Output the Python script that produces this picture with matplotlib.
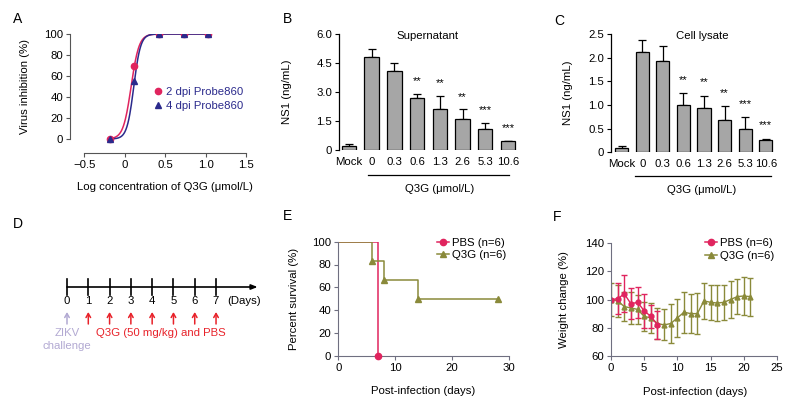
import matplotlib
matplotlib.use("Agg")
import matplotlib.pyplot as plt
from matplotlib.lines import Line2D
import matplotlib.transforms as mtransforms
import numpy as np

plt.rcParams['font.family'] = ['Liberation Sans', 'DejaVu Sans']
FS = 8.2
plt.rcParams['font.size'] = FS

# --- Colours ---
RED = '#e0245e'
NAVY = '#2b2a8c'
OLIVE = '#8a8a3a'
LAVENDER = '#b2a9d2'
BAR_GRAY = '#a6a6a6'
AXIS_GRAY = '#6f6f80'

# --- Panel A: dose response ---
A_LOGCONC = [-0.18, 0.12, 0.43, 0.73, 1.03]
A_2DPI = [0, 70, 100, 100, 100]
A_4DPI = [0, 55, 100, 100, 100]
# fitted logistic parameters (log IC50, hill slope)
A_FIT_2DPI = (0.079, 8.9)
A_FIT_4DPI = (0.112, 10.3)

# --- Panels B, C: NS1 bars ---
BAR_LABELS = ['Mock', '0', '0.3', '0.6', '1.3', '2.6', '5.3', '10.6']
B_VALUES = [0.2, 4.8, 4.08, 2.68, 2.1, 1.6, 1.1, 0.45]
B_ERRORS = [0.1, 0.4, 0.42, 0.22, 0.7, 0.5, 0.3, 0.03]
C_VALUES = [0.1, 2.12, 1.93, 1.0, 0.93, 0.68, 0.5, 0.26]
C_ERRORS = [0.04, 0.25, 0.31, 0.25, 0.27, 0.29, 0.25, 0.03]
STARS = ['', '', '', '**', '**', '**', '***', '***']

# --- Panel D: schedule ---
D_DAYS = [0, 1, 2, 3, 4, 5, 6, 7]

# --- Panel E: survival ---
E_PBS_DAYS = [0, 7]
E_PBS_SURV = [100, 0]
E_Q3G_DAYS = [0, 6, 8, 14, 28]
E_Q3G_SURV = [100, 83.3, 66.7, 50, 50]

# --- Panel F: weight change ---
F_PBS_DAYS = [0, 1, 2, 3, 4, 5, 6, 7]
F_PBS_MEAN = [100, 100.5, 104, 97, 98, 92, 88, 82]
F_PBS_SD = [0, 11, 13, 11, 11, 12, 8, 10]
F_Q3G_DAYS = list(range(22))
F_Q3G_MEAN = [100, 99, 95, 94, 93, 88, 87, 83, 82, 83, 87, 91,
              90, 90, 99, 98, 97.5, 98, 100, 102, 102.5, 102]
F_Q3G_SD = [12, 11.5, 10.5, 11.5, 10.5, 10.5, 10.5, 11, 11, 14, 13.5, 14.5,
            14, 14.5, 12.5, 12.5, 12.5, 12.5, 13, 12.5, 13.5, 13.5]

W, H = 800, 407
fig = plt.figure(figsize=(8, 4.07), dpi=100)


def rect(left, top, right, bottom):
    """Axes rectangle from pixel edges of the image."""
    return [left / W, 1 - bottom / H, (right - left) / W, (bottom - top) / H]


def panel_letter(x, y, s):
    fig.text(x / W, 1 - y / H, s, fontsize=10, ha='center', va='center')


# ---------------- A ----------------
axA = fig.add_axes(rect(70, 34, 246, 153))
for (ic50, hill), col in [(A_FIT_2DPI, RED), (A_FIT_4DPI, NAVY)]:
    xs = np.linspace(A_LOGCONC[0], A_LOGCONC[-1], 200)
    axA.plot(xs, 100 / (1 + 10 ** ((ic50 - xs) * hill)), color=col, lw=1.1)
axA.plot(A_LOGCONC, A_2DPI, 'o', color=RED, ms=4.5, zorder=3)
axA.plot(A_LOGCONC, A_4DPI, '^', color=NAVY, ms=4.5, zorder=4)
axA.set_xlim(-0.677, 1.5)
axA.set_ylim(-13.3, 100)
axA.spines['top'].set_visible(False)
axA.spines['right'].set_visible(False)
axA.spines['left'].set_bounds(0, 100)
axA.spines['bottom'].set_bounds(-0.5, 1.5)
for sp in ('left', 'bottom'):
    axA.spines[sp].set_color('#555555')
axA.set_xticks([-0.5, 0, 0.5, 1.0, 1.5])
axA.set_xticklabels(['\u22120.5', '0', '0.5', '1.0', '1.5'])
axA.set_yticks([0, 20, 40, 60, 80, 100])
axA.tick_params(length=3, width=0.8, pad=2, color='#555555')
axA.set_ylabel('Virus inhibition (%)')
axA.yaxis.set_label_coords(-0.227, 0.56)
axA.set_xlabel('Log concentration of Q3G (\u03bcmol/L)')
axA.xaxis.set_label_coords(0.54, -0.245)
handlesA = [Line2D([], [], marker='o', ls='none', color=RED, ms=4.5),
            Line2D([], [], marker='^', ls='none', color=NAVY, ms=4.5)]
axA.legend(handlesA, ['2 dpi Probe860', '4 dpi Probe860'], loc='center left',
           bbox_to_anchor=(148 / W, 1 - 99 / H), bbox_transform=fig.transFigure,
           frameon=False, handlelength=0.8, handletextpad=0.3, labelspacing=0.3,
           borderpad=0, labelcolor=NAVY, fontsize=FS)
panel_letter(18, 19, 'A')


# ---------------- B & C ----------------
def bar_panel(ax, values, errors, ymax, yticks, yticklabels, title, title_x,
              line_x, text_x, line_y, text_y, ylab_x):
    x = np.arange(len(values))
    ax.bar(x, values, width=0.64, color=BAR_GRAY, edgecolor='black', lw=0.9, zorder=2)
    ax.errorbar(x, values, yerr=[np.zeros(len(values)), errors], fmt='none',
                ecolor='black', elinewidth=0.9, capsize=3, capthick=0.9, zorder=1)
    offset = ymax * 0.11
    for xi, v, e, s in zip(x, values, errors, STARS):
        if s:
            ax.text(xi, v + e + offset, s, ha='center', va='center', fontsize=8)
    ax.set_ylim(0, ymax)
    ax.set_yticks(yticks)
    ax.set_yticklabels(yticklabels)
    ax.set_xticks(x)
    ax.set_xticklabels(BAR_LABELS)
    for sp in ('top', 'right', 'bottom'):
        ax.spines[sp].set_visible(False)
    ax.spines['left'].set_linewidth(0.9)
    ax.tick_params(axis='y', length=3, width=0.8, pad=2)
    ax.tick_params(axis='x', length=0, pad=5)
    ax.set_ylabel('NS1 (ng/mL)')
    ax.yaxis.set_label_coords(ylab_x, 0.5)
    trans = mtransforms.blended_transform_factory(ax.transData, ax.transAxes)
    ax.text(title_x, 0.983, title, transform=trans, ha='center', va='center')
    ax.plot(line_x, [line_y, line_y], color='black', lw=0.9, transform=trans,
            clip_on=False)
    ax.text(text_x, text_y, 'Q3G (\u03bcmol/L)', transform=trans,
            ha='center', va='center')


axB = fig.add_axes(rect(339, 34, 517, 150))
axB.set_xlim(-0.44, 7.4)
bar_panel(axB, B_VALUES, B_ERRORS, 6.0, [0, 1.5, 3.0, 4.5, 6.0],
          ['0', '1.5', '3.0', '4.5', '6.0'], 'Supernatant', 3.48,
          [0.84, 7.06], 4.0, -0.216, -0.336, -0.264)
panel_letter(288, 19, 'B')

axC = fig.add_axes(rect(610.7, 34, 775, 152.3))
axC.set_xlim(-0.53, 7.45)
bar_panel(axC, C_VALUES, C_ERRORS, 2.5, [0, 0.5, 1.0, 1.5, 2.0, 2.5],
          ['0', '0.5', '1.0', '1.5', '2.0', '2.5'], 'Cell lysate', 3.9,
          [0.65, 7.25], 3.9, -0.2, -0.319, -0.229)
panel_letter(559, 21, 'C')

# ---------------- D ----------------
axD = fig.add_axes(rect(0, 200, 270, 407))
axD.set_xlim(-67 / 21.29, (270 - 67) / 21.29)
axD.set_ylim(407, 200)
axD.axis('off')
axD.annotate('', xy=(8.95, 287), xytext=(D_DAYS[0], 287),
             arrowprops=dict(arrowstyle='-|>,head_length=0.45,head_width=0.18',
                             lw=1.2, color='black', shrinkA=0, shrinkB=0))
for d in D_DAYS:
    axD.plot([d, d], [279, 295], color='black', lw=1.2)
    axD.text(d, 300.5, str(d), ha='center', va='center', fontsize=FS)
    col = LAVENDER if d == 0 else '#e8222a'
    axD.annotate('', xy=(d, 312), xytext=(d, 324),
                 arrowprops=dict(arrowstyle='->,head_length=0.35,head_width=0.2',
                                 lw=1.1, color=col, shrinkA=0, shrinkB=0))
axD.text(8.3, 300.5, '(Days)', ha='center', va='center', fontsize=FS)
axD.text(0, 333, 'ZIKV', ha='center', va='center', color=LAVENDER, fontsize=FS)
axD.text(0, 346, 'challenge', ha='center', va='center', color=LAVENDER, fontsize=FS)
axD.text(4.41, 333, 'Q3G (50 mg/kg) and PBS', ha='center', va='center',
         color='#e8222a', fontsize=FS)
panel_letter(18, 224, 'D')

# ---------------- E ----------------
axE = fig.add_axes(rect(338.3, 241.7, 509, 355.7))
axE.step(E_PBS_DAYS, E_PBS_SURV, where='post', color=RED, lw=1.1)
axE.plot(E_PBS_DAYS[-1:], E_PBS_SURV[-1:], 'o', color=RED, ms=4.5, clip_on=False, zorder=5)
axE.step(E_Q3G_DAYS, E_Q3G_SURV, where='post', color=OLIVE, lw=1.1)
axE.plot(E_Q3G_DAYS[1:], E_Q3G_SURV[1:], '^', color=OLIVE, ms=4.5, zorder=4)
axE.set_xlim(0, 30)
axE.set_ylim(0, 100)
axE.set_xticks([0, 10, 20, 30])
axE.set_yticks([0, 20, 40, 60, 80, 100])
for sp in ('top', 'right'):
    axE.spines[sp].set_visible(False)
for sp in ('left', 'bottom'):
    axE.spines[sp].set_color(AXIS_GRAY)
axE.tick_params(length=3, width=0.8, pad=2, color=AXIS_GRAY)
axE.set_ylabel('Percent survival (%)')
axE.yaxis.set_label_coords(-0.228, 0.5)
axE.set_xlabel('Post-infection (days)')
axE.xaxis.set_label_coords(0.497, -0.27)
handlesE = [Line2D([], [], marker='o', color=RED, ms=4.5, lw=1.1),
            Line2D([], [], marker='^', color=OLIVE, ms=4.5, lw=1.1)]
axE.legend(handlesE, ['PBS (n=6)', 'Q3G (n=6)'], loc='center left',
           bbox_to_anchor=(431 / W, 1 - 249 / H), bbox_transform=fig.transFigure,
           frameon=False, handlelength=1.1, handletextpad=0.25, labelspacing=0.2,
           borderpad=0, fontsize=FS)
panel_letter(288, 216, 'E')

# ---------------- F ----------------
axF = fig.add_axes(rect(611, 243, 777, 356))
axF.errorbar(F_Q3G_DAYS, F_Q3G_MEAN, yerr=F_Q3G_SD, color=OLIVE, marker='^', ms=3.5,
             lw=1.0, elinewidth=1.0, capsize=2.5, capthick=1.0)
axF.errorbar(F_PBS_DAYS, F_PBS_MEAN, yerr=F_PBS_SD, color=RED, marker='o', ms=3.5,
             lw=1.0, elinewidth=1.0, capsize=2.5, capthick=1.0)
axF.set_xlim(0, 25)
axF.set_ylim(60, 140)
axF.set_xticks([0, 5, 10, 15, 20, 25])
axF.set_yticks([60, 80, 100, 120, 140])
for sp in ('top', 'right'):
    axF.spines[sp].set_visible(False)
for sp in ('left', 'bottom'):
    axF.spines[sp].set_color(AXIS_GRAY)
axF.tick_params(length=3, width=0.8, pad=2, color=AXIS_GRAY)
axF.set_ylabel('Weight change (%)')
axF.yaxis.set_label_coords(-0.253, 0.5)
axF.set_xlabel('Post-infection (days)')
axF.xaxis.set_label_coords(0.506, -0.27)
handlesF = [Line2D([], [], marker='o', color=RED, ms=4.5, lw=1.1),
            Line2D([], [], marker='^', color=OLIVE, ms=4.5, lw=1.1)]
axF.legend(handlesF, ['PBS (n=6)', 'Q3G (n=6)'], loc='center left',
           bbox_to_anchor=(699 / W, 1 - 249.5 / H), bbox_transform=fig.transFigure,
           frameon=False, handlelength=1.1, handletextpad=0.25, labelspacing=0.2,
           borderpad=0, fontsize=FS)
panel_letter(557, 217, 'F')

fig.savefig('out.png', dpi=100)
